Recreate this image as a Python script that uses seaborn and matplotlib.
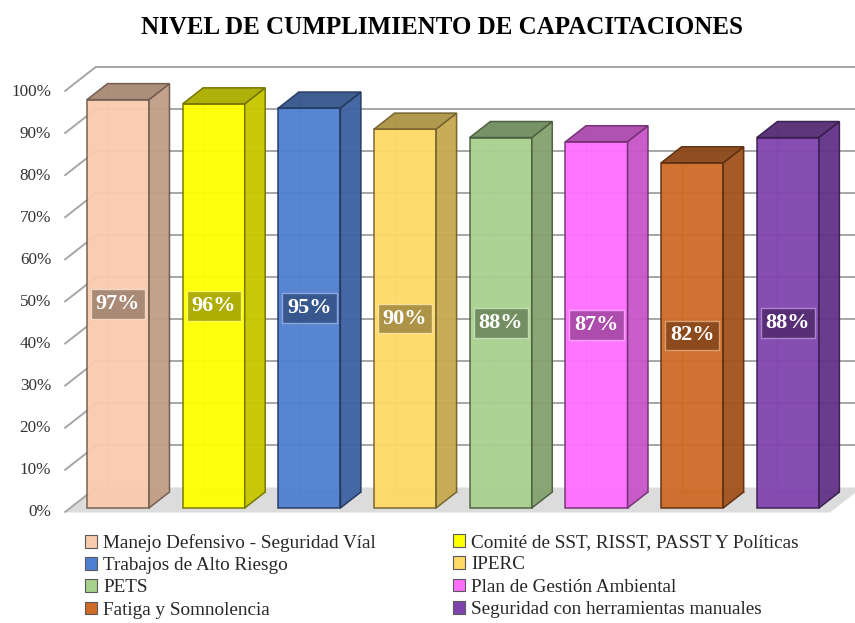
import numpy as np
import matplotlib
matplotlib.use("Agg")
import matplotlib.pyplot as plt
from matplotlib.patches import Polygon, Patch
import matplotlib.colors as mcolors
import seaborn as sns

# ---- data -------------------------------------------------------------
categories = [
    "Manejo Defensivo - Seguridad Víal",
    "Comité de SST, RISST, PASST Y Políticas",
    "Trabajos de Alto Riesgo",
    "IPERC",
    "PETS",
    "Plan de Gestión Ambiental",
    "Fatiga y Somnolencia",
    "Seguridad con herramientas manuales",
]
values = [97, 96, 95, 90, 88, 87, 82, 88]
bar_colors = ["#F8CBAD", "#FFFF00", "#4F7FD0", "#FFD966",
              "#A9D18E", "#FF6EFF", "#CE6A26", "#8043AE"]
y_ticks = [0, 10, 20, 30, 40, 50, 60, 70, 80, 90, 100]
title = "NIVEL DE CUMPLIMIENTO DE CAPACITACIONES"

# ---- style ------------------------------------------------------------
sns.set_theme(style="white")
plt.rcParams["font.family"] = ["Liberation Serif", "DejaVu Serif"]

W, H = 855, 623
fig = plt.figure(figsize=(W / 100, H / 100), dpi=100)
ax = fig.add_axes([0, 0, 1, 1])

# pixel geometry of the front plane of the bars
x0_px, step_px = 118.0, 95.7      # centre of first bar, spacing
y0_px, unit_px = 508.0, 4.21      # baseline and px per percent
depth_dx_px, depth_dy_px = 32.0, 25.0   # full depth of the box
DX = depth_dx_px / step_px
DY = depth_dy_px / unit_px
D0, D1 = 0.18, 0.82               # bar depth range inside the box


def proj(x, v, d):
    """Oblique projection of (category, value, depth) into the axes."""
    return (x + (d - D0) * DX, v + (d - D0) * DY)


def shade(c, f):
    r, g, b = mcolors.to_rgb(c)
    return (r * f, g * f, b * f)


def tint(c, f):
    r, g, b = mcolors.to_rgb(c)
    return (r + (1 - r) * f, g + (1 - g) * f, b + (1 - b) * f)


sns.barplot(x=categories, y=values, hue=categories, palette=bar_colors,
            width=0.648, dodge=False, legend=False, ax=ax,
            saturation=1, zorder=5, alpha=0.95)

ax.set_xlim((0 - x0_px) / step_px, (W - x0_px) / step_px)
ax.set_ylim((y0_px - H) / unit_px, y0_px / unit_px)
ax.axis("off")

# ---- walls and floor --------------------------------------------------
xl, xr = -0.5, len(categories) - 0.5
grid_c = "#A6A6A6"
floor = Polygon([proj(xl, 0, 0), proj(xr, 0, 0), proj(xr, 0, 1), proj(xl, 0, 1)],
                closed=True, facecolor="#DCDCDC", edgecolor="none", zorder=1)
ax.add_patch(floor)
for t in y_ticks:
    a, b = proj(xl, t, 0), proj(xl, t, 1)
    ax.plot([a[0], b[0]], [a[1], b[1]], color=grid_c, lw=1.4, zorder=2,
            solid_capstyle="butt")
    if t > 0:
        c = proj(xr + 0.3, t, 1)
        ax.plot([b[0], c[0]], [b[1], c[1]], color=grid_c, lw=1.4, zorder=2)
    ax.annotate(f"{t}%", xy=a, xytext=(-9.5, 0), textcoords="offset points",
                ha="right", va="center", fontsize=12.3, color="#333333")

# ---- 3D sides, tops and value labels ---------------------------------
for patch, v, col in zip(ax.patches[:len(values)], values, bar_colors):
    bx = patch.get_x()
    bw = patch.get_width()
    edge = shade(col, 0.45)
    patch.set_edgecolor(edge)
    patch.set_linewidth(1.1)
    # the bar patch sits in the front plane (depth D0);
    # hidden back edges show faintly through the translucent faces
    p_bl = proj(bx, 0, D1)
    p_tl = proj(bx, v, D1)
    p_br = proj(bx + bw, 0, D1)
    ax.plot([p_bl[0], p_tl[0]], [p_bl[1], p_tl[1]], color=edge, lw=0.8,
            alpha=0.45, zorder=4)
    ax.plot([p_bl[0], p_br[0]], [p_bl[1], p_br[1]], color=edge, lw=0.8,
            alpha=0.45, zorder=4)
    side = Polygon([proj(bx + bw, 0, D0), proj(bx + bw, v, D0),
                    proj(bx + bw, v, D1), proj(bx + bw, 0, D1)],
                   closed=True, facecolor=shade(col, 0.78), edgecolor=edge,
                   lw=1.1, alpha=0.96, zorder=6)
    top = Polygon([proj(bx, v, D0), proj(bx + bw, v, D0),
                   proj(bx + bw, v, D1), proj(bx, v, D1)],
                  closed=True, facecolor=shade(col, 0.68), edgecolor=edge,
                  lw=1.1, alpha=0.96, zorder=6)
    ax.add_patch(side)
    ax.add_patch(top)
    ax.text(bx + bw / 2, v / 2, f"{v}%", ha="center", va="center",
            fontsize=16, fontweight="bold", color="white", zorder=8,
            bbox=dict(boxstyle="square,pad=0.22", facecolor=shade(col, 0.6),
                      edgecolor=tint(col, 0.45), lw=1.0, alpha=0.8))

# ---- title and legend -------------------------------------------------
fig.text(442 / W, 1 - 28 / H, title, ha="center", va="center",
         fontsize=18, fontweight="bold", color="black")

handles = [Patch(facecolor=c, edgecolor="#595959", lw=0.8) for c in bar_colors]
legend_kw = dict(frameon=False, fontsize=13.8, handlelength=0.65,
                 handleheight=0.65, handletextpad=0.3, labelspacing=0.27,
                 borderpad=0, borderaxespad=0, loc="upper left")
fig.legend(handles[0::2], categories[0::2],
           bbox_to_anchor=(85 / W, 1 - 534 / H), **legend_kw)
fig.legend(handles[1::2], categories[1::2],
           bbox_to_anchor=(453 / W, 1 - 534 / H), **legend_kw)

fig.savefig("out.png", dpi=100)
